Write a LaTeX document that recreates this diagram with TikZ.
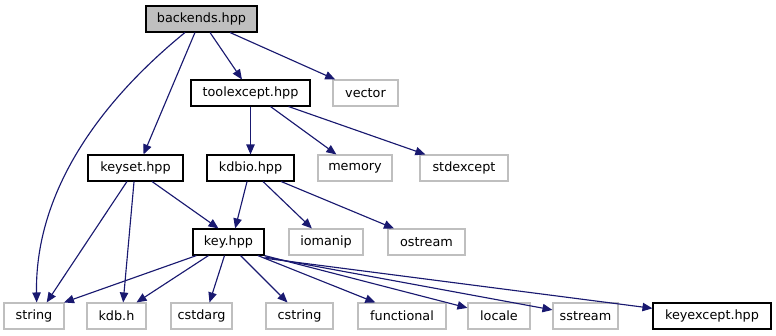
\documentclass[tikz,border=0pt]{standalone}
\usepackage{fontspec}
\setmainfont{DejaVu Sans}
\usetikzlibrary{arrows.meta}
\definecolor{edgeblue}{RGB}{25,25,112}
\definecolor{graybd}{RGB}{191,191,191}
\tikzset{
  nbox/.style={draw=black, line width=0.8pt, minimum height=19.5pt, inner sep=0pt, font=\fontsize{9.6}{11}\selectfont, fill=white},
  gbox/.style={nbox, draw=graybd},
  rootbox/.style={nbox, fill=graybd},
  edge/.style={draw=edgeblue, line width=0.85pt, -{Triangle[length=7.5pt,width=6.3pt]}}
}
\begin{document}
\begin{tikzpicture}[x=0.75pt,y=-0.75pt]
\useasboundingbox (0,0) rectangle (776,336);
% row 1
\node[rootbox, minimum width=111*0.75pt] (backends) at (201.5,19) {backends.hpp};
% row 2
\node[nbox, minimum width=119*0.75pt] (toolexcept) at (250.5,93) {toolexcept.hpp};
\node[gbox, minimum width=65*0.75pt] (vector) at (365.5,93) {vector};
% row 3
\node[nbox, minimum width=95*0.75pt] (keyset) at (135.5,168) {keyset.hpp};
\node[nbox, minimum width=87*0.75pt] (kdbio) at (250.5,168) {kdbio.hpp};
\node[gbox, minimum width=74*0.75pt] (memory) at (355,168) {memory};
\node[gbox, minimum width=88*0.75pt] (stdexcept) at (464,168) {stdexcept};
% row 4
\node[nbox, minimum width=71*0.75pt] (key) at (228.5,242) {key.hpp};
\node[gbox, minimum width=74*0.75pt] (iomanip) at (326,242) {iomanip};
\node[gbox, minimum width=77*0.75pt] (ostream) at (426.5,242) {ostream};
% row 5
\node[gbox, minimum width=60*0.75pt] (string) at (34,316) {string};
\node[gbox, minimum width=59*0.75pt] (kdbh) at (116.5,316) {kdb.h};
\node[gbox, minimum width=61*0.75pt] (cstdarg) at (201.5,316) {cstdarg};
\node[gbox, minimum width=67*0.75pt] (cstring) at (299.5,316) {cstring};
\node[gbox, minimum width=88*0.75pt] (functional) at (402,316) {functional};
\node[gbox, minimum width=62*0.75pt] (locale) at (499,316) {locale};
\node[gbox, minimum width=65*0.75pt] (sstream) at (585.5,316) {sstream};
\node[nbox, minimum width=118*0.75pt] (keyexcept) at (712,316) {keyexcept.hpp};
% edges from backends
\draw[edge] ([xshift=-12.4pt]backends.south) .. controls (90,110) and (35,200) .. ([xshift=2pt]string.north);
\draw[edge] ([xshift=-4.9pt]backends.south) -- ([xshift=6pt]keyset.north);
\draw[edge] ([xshift=6.4pt]backends.south) -- ([xshift=-6.4pt]toolexcept.north);
\draw[edge] ([xshift=21.4pt]backends.south) -- (vector);
% toolexcept
\draw[edge] (toolexcept.south) -- (kdbio.north);
\draw[edge] ([xshift=15pt]toolexcept.south) -- (memory);
\draw[edge] ([xshift=28.5pt]toolexcept.south) -- (stdexcept);
% keyset
\draw[edge] ([xshift=-6.4pt]keyset.south) -- ([xshift=9.5pt]string.north);
\draw[edge] ([xshift=-1.1pt]keyset.south) -- ([xshift=5pt]kdbh.north);
\draw[edge] ([xshift=12.4pt]keyset.south) -- ([xshift=-7.5pt]key.north);
% kdbio
\draw[edge] ([xshift=-2.6pt]kdbio.south) -- ([xshift=5pt]key.north);
\draw[edge] ([xshift=9.4pt]kdbio.south) -- (iomanip);
\draw[edge] ([xshift=23pt]kdbio.south) -- (ostream);
% key
\draw[edge] ([xshift=-24pt]key.south) -- ([xshift=22.5pt]string.north);
\draw[edge] ([xshift=-15pt]key.south) -- ([xshift=15pt]kdbh.north);
\draw[edge] ([xshift=-3pt]key.south) -- ([xshift=6pt]cstdarg.north);
\draw[edge] ([xshift=9pt]key.south) -- ([xshift=-9pt]cstring.north);
\draw[edge] ([xshift=22pt]key.south) -- ([xshift=-20pt]functional.north);
\draw[edge] (key.south east) -- (locale);
\draw[edge] ([yshift=-1pt]key.south east) -- (sstream);
\draw[edge] ([yshift=-2pt]key.south east) -- (keyexcept);
\end{tikzpicture}
\end{document}
